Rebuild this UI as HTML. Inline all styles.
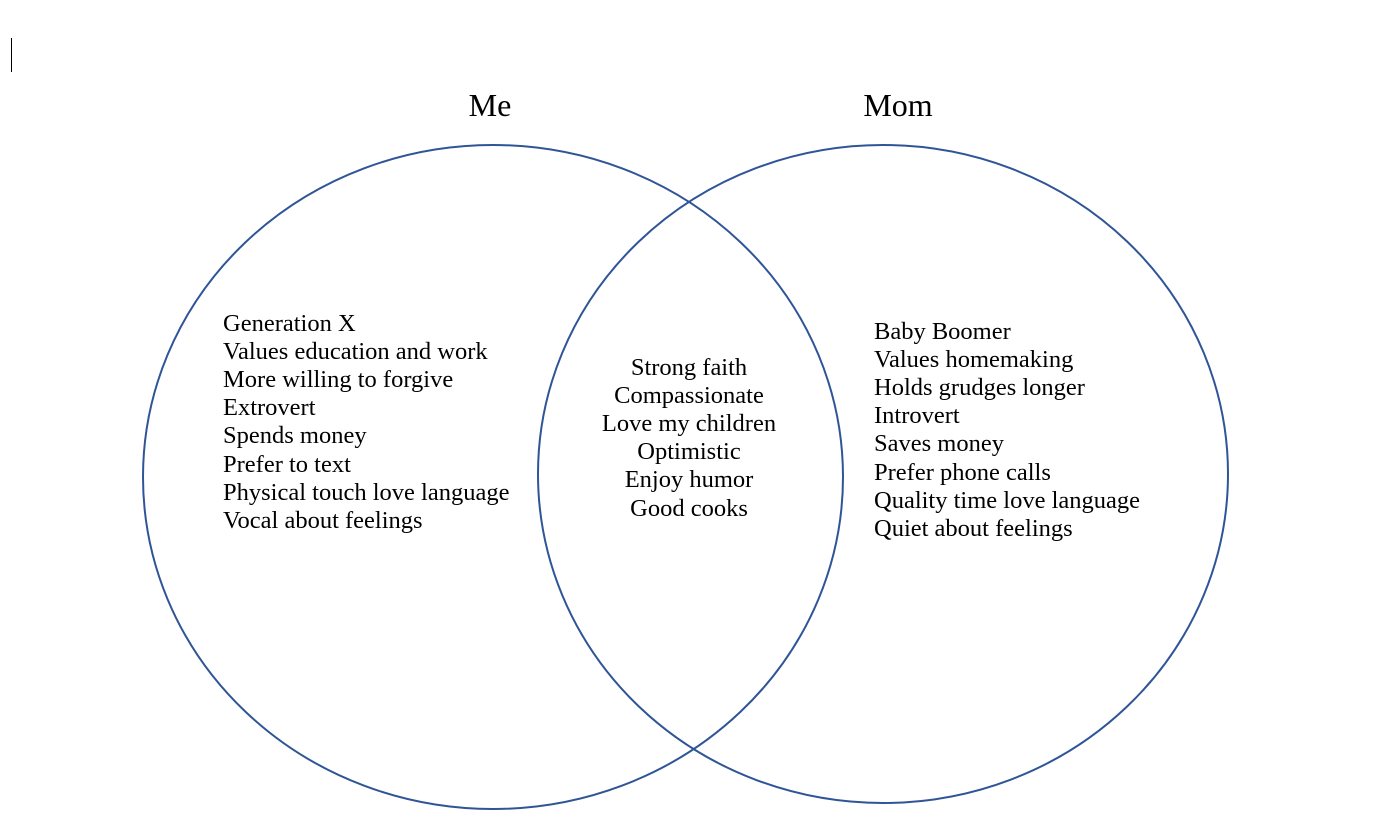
<!DOCTYPE html>
<html><head><meta charset="utf-8"><style>
html,body{margin:0;padding:0;background:#fff;}
svg{display:block;}
text{font-family:"Liberation Serif",serif;font-size:24.5px;fill:#000;}
</style></head><body>
<svg width="1378" height="833" viewBox="0 0 1378 833">
<line x1="11.5" y1="38" x2="11.5" y2="72" stroke="#000" stroke-width="1"/>
<ellipse cx="493" cy="477" rx="350" ry="332" fill="none" stroke="#2f5597" stroke-width="2"/>
<ellipse cx="883" cy="474" rx="345" ry="329" fill="none" stroke="#2f5597" stroke-width="2"/>
<text x="490" y="116" text-anchor="middle" style="font-size:32px">Me</text>
<text x="898" y="116" text-anchor="middle" style="font-size:32px">Mom</text>
<g>
<text x="223" y="331">Generation X</text>
<text x="223" y="359">Values education and work</text>
<text x="223" y="387">More willing to forgive</text>
<text x="223" y="415">Extrovert</text>
<text x="223" y="443">Spends money</text>
<text x="223" y="472">Prefer to text</text>
<text x="223" y="500">Physical touch love language</text>
<text x="223" y="528">Vocal about feelings</text>
</g>
<g text-anchor="middle">
<text x="689" y="375">Strong faith</text>
<text x="689" y="403">Compassionate</text>
<text x="689" y="431">Love my children</text>
<text x="689" y="459">Optimistic</text>
<text x="689" y="487">Enjoy humor</text>
<text x="689" y="516">Good cooks</text>
</g>
<g>
<text x="874" y="339">Baby Boomer</text>
<text x="874" y="367">Values homemaking</text>
<text x="874" y="395">Holds grudges longer</text>
<text x="874" y="423">Introvert</text>
<text x="874" y="451">Saves money</text>
<text x="874" y="480">Prefer phone calls</text>
<text x="874" y="508">Quality time love language</text>
<text x="874" y="536">Quiet about feelings</text>
</g>
</svg>
</body></html>
